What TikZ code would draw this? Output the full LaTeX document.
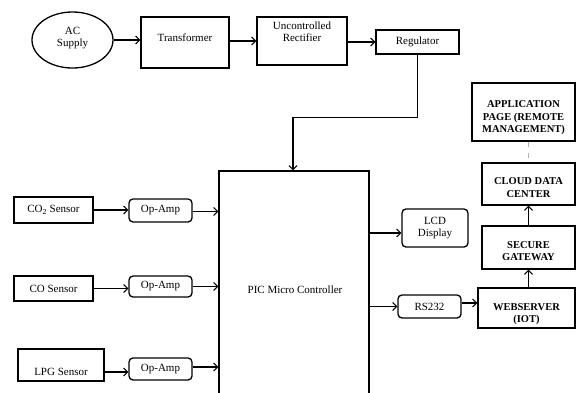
\documentclass[tikz,border=0pt]{standalone}
\usepackage{fontspec}
\setmainfont{Liberation Serif}
\usetikzlibrary{shapes.geometric,arrows.meta}
\begin{document}
\begin{tikzpicture}[x=1pt,y=-1pt,
  every node/.style={font=\fontsize{11}{12.5}\selectfont, align=center, inner sep=0pt},
  box/.style={draw, line width=1.3pt, rectangle},
  rbox/.style={box, rounded corners=4pt},
  bbox/.style={box, font=\fontsize{10.5}{12.5}\selectfont\bfseries},
  conn/.style={line width=1.1pt, -{Straight Barb[length=4pt,width=8pt]}},
  plain/.style={draw=none}]
\useasboundingbox[fill=white] (0,0) rectangle (576,392);
% power chain
\node[draw, ellipse, line width=1.3pt, minimum width=81pt, minimum height=56pt, text depth=6.5pt] (ac) at (72.5,40) {AC\\Supply};
\node[box, minimum width=88pt, minimum height=51pt, text depth=9pt] (tr) at (185,42.5) {Transformer};
\node[box, minimum width=90pt, minimum height=48pt, text depth=19pt] (rect) at (302,41) {Uncontrolled\\Rectifier};
\node[box, minimum width=83pt, minimum height=24pt] (reg) at (417.5,42) {Regulator};
% controller
\node[box, minimum width=150pt, minimum height=227pt] (pic) at (294,284.5) {};
\node[plain] (pictext) at (295,290) {PIC Micro Controller};
% sensors
\node[box, minimum width=79pt, minimum height=26pt] (co2) at (53.5,210) {CO\textsubscript{2} Sensor};
\node[rbox, minimum width=63pt, minimum height=23pt] (oa1) at (160.5,210.5) {Op-Amp};
\node[box, minimum width=79pt, minimum height=25pt] (co) at (53.5,288.5) {CO Sensor};
\node[rbox, minimum width=63pt, minimum height=21pt] (oa2) at (160.5,286.5) {Op-Amp};
\node[box, minimum width=86pt, minimum height=32pt] (lpg) at (61,365) {};
\node[plain] (lpgtext) at (61,372) {LPG Sensor};
\node[rbox, minimum width=63pt, minimum height=22pt] (oa3) at (160.5,369) {Op-Amp};
% outputs
\node[rbox, minimum width=66pt, minimum height=38pt] (lcd) at (435,228) {LCD\\Display};
\node[rbox, minimum width=63pt, minimum height=23pt] (rs) at (429.5,306.5) {RS232};
\node[bbox, minimum width=97pt, minimum height=40pt, text height=32pt] (web) at (526.5,308) {WEBSERVER\\(IOT)};
\node[bbox, minimum width=93pt, minimum height=43pt, text height=27pt] (gw) at (528.5,247.5) {SECURE\\GATEWAY};
\node[bbox, minimum width=93pt, minimum height=42pt, text height=27pt] (cloud) at (528.5,184) {CLOUD DATA\\CENTER};
\node[bbox, minimum width=103pt, minimum height=58pt, text height=44pt] (app) at (523.5,112) {APPLICATION\\PAGE (REMOTE\\MANAGEMENT)};
% connectors
\draw[conn] (ac.east) -- (tr.west |- ac.east);
\draw[conn] (tr.east |- rect.west) -- (rect.west);
\draw[conn] (rect.east |- reg.west) -- (reg.west);
\draw[conn] (reg.south) -- ++(0,63) -| ([xshift=-1pt]pic.north);
\draw[conn] (co2.east) -- (oa1.west |- co2.east);
\draw[conn] (co.east) -- (oa2.west |- co.east);
\draw[conn] (lpgtext -| lpg.east) -- (lpgtext -| oa3.west);
\draw[conn] ([yshift=-1pt]oa1.east) -- ([yshift=-1pt]oa1.east -| pic.west);
\draw[conn] (oa2.east) -- (oa2.east -| pic.west);
\draw[conn] ([yshift=2pt]oa3.east) -- ([yshift=2pt]oa3.east -| pic.west);
\draw[conn] ([yshift=-5pt]lcd.west -| pic.east) -- ([yshift=-5pt]lcd.west);
\draw[conn] (rs.west -| pic.east) -- (rs.west);
\draw[conn] ([yshift=3.5pt]rs.east) -- ([yshift=3.5pt]rs.east -| web.west);
\draw[conn] (gw.south |- web.north) -- (gw.south);
\draw[conn] (gw.north) -- (cloud.south);
\draw[gray!60, line width=0.6pt, dash pattern=on 5pt off 6pt] (cloud.north |- app.south) -- (cloud.north);
\end{tikzpicture}
\end{document}
